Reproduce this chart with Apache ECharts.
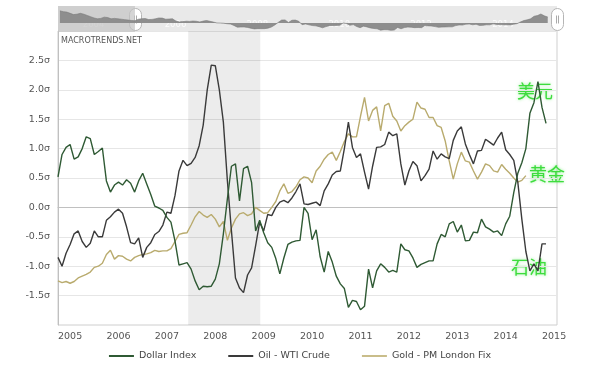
<!DOCTYPE html>
<html><head><meta charset="utf-8">
<script src="https://cdn.jsdelivr.net/npm/echarts@6/dist/echarts.min.js"></script>
<style>html,body{margin:0;padding:0;background:#fff}#c{width:600px;height:369px}</style>
</head><body><div id="c"></div>
<script>
// monthly standardized values (sigma), first month = Oct 2004
const startYear = 2004.75;
const dollarIndex = [0.52,0.90,1.02,1.07,0.82,0.86,1.00,1.20,1.17,0.90,0.95,1.01,
0.45,0.26,0.38,0.43,0.38,0.47,0.41,0.26,0.45,0.58,0.40,0.22,
0.02,-0.01,-0.05,-0.17,-0.25,-0.57,-0.98,-0.96,-0.94,-1.05,-1.25,-1.40,
-1.34,-1.35,-1.34,-1.22,-0.96,-0.45,0.15,0.70,0.74,0.11,0.66,0.70,
0.42,-0.40,-0.22,-0.43,-0.60,-0.68,-0.87,-1.13,-0.86,-0.63,-0.59,-0.57,
-0.56,0.00,-0.10,-0.55,-0.38,-0.84,-1.10,-0.75,-0.93,-1.17,-1.30,-1.38,
-1.70,-1.58,-1.60,-1.74,-1.68,-1.05,-1.37,-1.08,-0.96,-1.02,-1.10,-1.07,
-1.10,-0.62,-0.72,-0.74,-0.86,-1.02,-0.97,-0.94,-0.91,-0.91,-0.62,-0.46,
-0.50,-0.28,-0.24,-0.42,-0.30,-0.57,-0.56,-0.42,-0.43,-0.20,-0.33,-0.37,
-0.42,-0.40,-0.48,-0.28,-0.15,0.25,0.58,0.76,1.00,1.60,1.78,2.14,
1.70,1.43];
const oilWTI = [-0.85,-1.00,-0.78,-0.63,-0.45,-0.40,-0.58,-0.68,-0.61,-0.40,-0.50,-0.50,
-0.22,-0.16,-0.08,-0.03,-0.10,-0.33,-0.60,-0.62,-0.52,-0.85,-0.68,-0.60,
-0.46,-0.41,-0.30,-0.08,-0.10,0.20,0.62,0.80,0.71,0.75,0.85,1.05,
1.40,2.00,2.42,2.41,2.00,1.45,0.45,-0.40,-1.20,-1.37,-1.45,-1.15,
-1.03,-0.65,-0.25,-0.40,-0.12,-0.14,0.00,0.09,0.12,0.08,0.16,0.27,
0.40,0.06,0.05,0.07,0.09,0.03,0.28,0.40,0.55,0.61,0.62,1.00,
1.45,1.02,0.85,0.91,0.60,0.31,0.70,1.02,1.03,1.07,1.28,1.22,
1.25,0.74,0.38,0.62,0.78,0.71,0.45,0.54,0.65,0.96,0.82,0.91,
0.86,0.83,1.14,1.30,1.37,1.08,0.90,0.74,0.96,0.97,1.16,1.11,
1.06,1.18,1.28,0.98,0.90,0.80,0.43,-0.20,-0.75,-1.08,-0.96,-1.08,
-0.62,-0.62];
const goldPM = [-1.25,-1.28,-1.26,-1.29,-1.26,-1.20,-1.17,-1.14,-1.10,-1.02,-1.00,-0.95,
-0.80,-0.73,-0.88,-0.82,-0.83,-0.88,-0.91,-0.85,-0.82,-0.80,-0.79,-0.77,
-0.73,-0.75,-0.74,-0.74,-0.70,-0.58,-0.46,-0.44,-0.43,-0.30,-0.16,-0.07,
-0.13,-0.17,-0.12,-0.20,-0.33,-0.24,-0.56,-0.35,-0.20,-0.11,-0.09,-0.14,
-0.11,0.00,-0.05,-0.10,-0.09,0.00,0.10,0.28,0.40,0.24,0.27,0.35,
0.47,0.52,0.50,0.42,0.62,0.70,0.82,0.90,0.94,0.80,0.95,1.12,
1.25,1.20,1.20,1.55,1.87,1.47,1.65,1.71,1.30,1.73,1.77,1.55,
1.47,1.30,1.39,1.45,1.50,1.79,1.69,1.67,1.53,1.53,1.39,1.36,
1.13,0.79,0.48,0.74,0.94,0.79,0.77,0.62,0.48,0.60,0.74,0.71,
0.62,0.60,0.73,0.65,0.58,0.50,0.43,0.46,0.54];
// navigator shadow: dollar index before the visible window (Dec 2002 .. Sep 2004)
const navStart = 2002.917;
const navDollarPre = [2.9,2.7,2.6,2.3,2.0,2.1,2.3,2.1,1.8,1.5,1.2,1.0,1.1,1.4,1.3,1.0,1.1,1.0,0.9,0.8,0.7,0.6];
const yearLabels = [2005,2006,2007,2008,2009,2010,2011,2012,2013,2014,2015];
const navYearLabels = [2004,2006,2008,2010,2012,2014];
const recession = [2007.44, 2008.93];
const seriesNames = ['Dollar Index','Oil - WTI Crude','Gold - PM London Fix'];

const toXY = (arr, t0) => arr.map((v, i) => [t0 + i / 12, v]);
const xMin = 2004.75, xMax = 2015.06, navMin = 2002.87;

const chart = echarts.init(document.getElementById('c'));
const splitColors = [];
for (let v = -2; v <= 3.001; v += 0.5) splitColors.push(Math.abs(v) < 1e-6 ? '#a8a8a8' : '#e6e6e6');

chart.setOption({
  animation: false,
  textStyle: { fontFamily: 'Verdana, "DejaVu Sans", sans-serif' },
  grid: [
    { left: 58, right: 43, top: 31, bottom: 44, show: true, borderColor: '#cfcfcf', borderWidth: 1, backgroundColor: '#fff' },
    { left: 58, right: 43, top: 6, height: 26, show: true, borderWidth: 0, backgroundColor: '#e9e9e9' }
  ],
  xAxis: [
    { type: 'value', gridIndex: 0, min: xMin, max: xMax,
      axisLine: { show: true, lineStyle: { color: '#c0c0c0' } }, axisTick: { show: false },
      splitLine: { show: false },
      axisLabel: { customValues: yearLabels, formatter: v => String(Math.round(v)), color: '#555', fontSize: 9.5, margin: 7 } },
    { type: 'value', gridIndex: 1, min: navMin, max: xMax,
      axisLine: { show: false }, axisTick: { show: false }, splitLine: { show: false },
      axisLabel: { inside: true, customValues: navYearLabels.map(y => y - 0.26), formatter: v => String(Math.round(v)), color: 'rgba(255,255,255,0.85)', fontSize: 8.5, margin: 3 } }
  ],
  yAxis: [
    { type: 'value', gridIndex: 0, min: -2, max: 3, interval: 0.5,
      axisLine: { show: true, lineStyle: { color: '#c0c0c0' } }, axisTick: { show: false },
      splitLine: { show: true, lineStyle: { color: splitColors, width: 1 } },
      axisLabel: { formatter: v => (v <= -2 || v >= 3) ? '' : v.toFixed(1) + 'σ', color: '#555', fontSize: 9.5, margin: 8 } },
    { type: 'value', gridIndex: 1, min: -2.14, max: 4.05, show: false }
  ],
  legend: {
    data: seriesNames, top: 346, left: 'center', itemWidth: 25, itemHeight: 2, icon: 'rect', itemGap: 32,
    textStyle: { color: '#444', fontSize: 9.5 }
  },
  series: [
    { name: seriesNames[0], type: 'line', data: toXY(dollarIndex, startYear), showSymbol: false, symbol: 'none',
      lineStyle: { color: '#2f5a34', width: 1.4 }, itemStyle: { color: '#2f5a34' }, z: 4,
      markArea: { silent: true, itemStyle: { color: 'rgba(0,0,0,0.075)' }, data: [[{ xAxis: recession[0] }, { xAxis: recession[1] }]] } },
    { name: seriesNames[1], type: 'line', data: toXY(oilWTI, startYear), symbol: 'none',
      lineStyle: { color: '#3a3a3a', width: 1.4 }, itemStyle: { color: '#3a3a3a' }, z: 3 },
    { name: seriesNames[2], type: 'line', data: toXY(goldPM, startYear), symbol: 'none',
      lineStyle: { color: '#b9ab6e', width: 1.4 }, itemStyle: { color: '#c9bd8a' }, z: 2 },
    { name: 'nav', type: 'line', xAxisIndex: 1, yAxisIndex: 1, symbol: 'none', silent: true,
      data: toXY(navDollarPre, navStart).concat(toXY(dollarIndex, startYear)),
      lineStyle: { color: '#7a7a7a', width: 0.6 }, areaStyle: { color: '#8e8e8e', opacity: 1 },
      markArea: { silent: true, itemStyle: { color: 'rgba(195,195,195,0.7)' }, data: [[{ xAxis: navMin }, { xAxis: xMin }]] } }
  ],
  graphic: [
    { type: 'text', left: 61, top: 37, style: { text: 'MACROTRENDS.NET', fill: '#555', font: '8px Verdana, "DejaVu Sans", sans-serif' } },
    { type: 'group', left: 129, top: 8, children: [
      { type: 'rect', shape: { x: 0, y: 0, width: 12, height: 22, r: 6 }, style: { fill: '#fff', stroke: '#b5b5b5', lineWidth: 1 } },
      { type: 'line', shape: { x1: 5, y1: 7, x2: 5, y2: 15 }, style: { stroke: '#aaa', lineWidth: 1 } },
      { type: 'line', shape: { x1: 7, y1: 7, x2: 7, y2: 15 }, style: { stroke: '#aaa', lineWidth: 1 } } ] },
    { type: 'group', left: 551, top: 8, children: [
      { type: 'rect', shape: { x: 0, y: 0, width: 12, height: 22, r: 6 }, style: { fill: '#fff', stroke: '#b5b5b5', lineWidth: 1 } },
      { type: 'line', shape: { x1: 5, y1: 7, x2: 5, y2: 15 }, style: { stroke: '#aaa', lineWidth: 1 } },
      { type: 'line', shape: { x1: 7, y1: 7, x2: 7, y2: 15 }, style: { stroke: '#aaa', lineWidth: 1 } } ] },
    { type: 'text', left: 517, top: 82, style: { text: '美元', fill: '#3ddc3d', font: '18px "Noto Sans CJK SC"', textShadowColor: 'rgba(90,230,90,0.7)', textShadowBlur: 3 } },
    { type: 'text', left: 529, top: 165, style: { text: '黄金', fill: '#3ddc3d', font: '18px "Noto Sans CJK SC"', textShadowColor: 'rgba(90,230,90,0.7)', textShadowBlur: 3 } },
    { type: 'text', left: 511, top: 258, style: { text: '石油', fill: '#3ddc3d', font: '18px "Noto Sans CJK SC"', textShadowColor: 'rgba(90,230,90,0.7)', textShadowBlur: 3 } }
  ]
});
</script></body></html>
